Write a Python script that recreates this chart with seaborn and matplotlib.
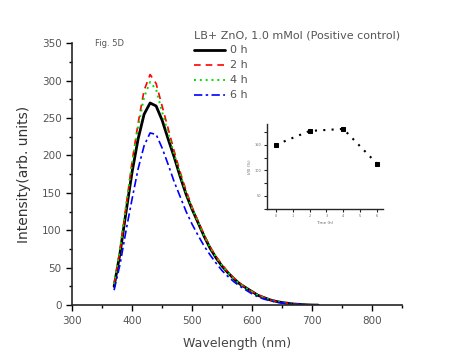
import matplotlib
matplotlib.use("Agg")
import matplotlib.pyplot as plt
import seaborn as sns
import numpy as np
from matplotlib.ticker import MultipleLocator

sns.set_style("ticks")
plt.rcParams['font.family'] = ['DejaVu Sans']

wavelength = [370, 380, 390, 400, 410, 420, 430, 440, 450, 460, 470, 480, 490, 500,
              510, 520, 530, 540, 550, 560, 570, 580, 590, 600, 610, 620, 630, 640,
              650, 660, 670, 680, 690, 700, 710]
h0 = [25, 70, 125, 178, 222, 255, 270, 266, 247, 222, 198, 172, 148, 128,
      110, 92, 76, 63, 52, 43, 35, 28, 23, 18, 13, 10, 7, 5,
      3.5, 2.5, 1.5, 1, 0.5, 0.2, 0.1]
h2 = [28, 74, 132, 192, 243, 287, 308, 296, 266, 236, 206, 178, 153, 131,
      112, 94, 78, 65, 54, 44, 36, 29, 23, 18, 14, 10, 7, 5,
      3.5, 2.5, 1.5, 1, 0.5, 0.2, 0.1]
h4 = [28, 76, 134, 190, 238, 278, 298, 288, 258, 230, 202, 175, 150, 129,
      111, 93, 77, 64, 53, 43, 35, 28, 23, 18, 13, 10, 7, 5,
      3.5, 2.5, 1.5, 1, 0.5, 0.2, 0.1]
h6 = [20, 55, 100, 142, 182, 213, 230, 228, 210, 188, 165, 145, 125, 108,
      93, 79, 67, 56, 46, 38, 31, 25, 20, 15, 11, 8, 6, 4,
      3, 2, 1.5, 1, 0.5, 0.3, 0.2]
series_labels = ["0 h", "2 h", "4 h", "6 h"]

inset_time = [0, 2, 4, 6]
inset_value = [150, 177, 181, 113]

fig = plt.figure(figsize=(4.65, 3.62), dpi=100)
ax = fig.add_axes([0.155, 0.157, 0.71, 0.724])

styles = [
    dict(color="black", linestyle="-", linewidth=2.0),
    dict(color="#ff0000", linestyle=(0, (4, 3)), linewidth=1.2),
    dict(color="#00dd00", linestyle=(0, (1, 2)), linewidth=1.4),
    dict(color="#0000ff", linestyle=(0, (5, 2, 1.5, 2)), linewidth=1.2),
]
for vals, lab, st in zip([h0, h2, h4, h6], series_labels, styles):
    sns.lineplot(x=wavelength, y=vals, ax=ax, label=lab, **st)

ax.set_xlim(300, 850)
ax.set_ylim(0, 350)
ax.xaxis.set_minor_locator(MultipleLocator(50))
ax.yaxis.set_major_locator(MultipleLocator(50))
ax.yaxis.set_minor_locator(MultipleLocator(25))
ax.set_xticks([300, 400, 500, 600, 700, 800])
ax.tick_params(which="major", direction="out", length=4, width=1, labelsize=7.5,
               labelcolor="#555555", color="black")
ax.tick_params(which="minor", direction="out", length=2.5, width=1, color="black")
for s in ["top", "right"]:
    ax.spines[s].set_visible(False)
for s in ["left", "bottom"]:
    ax.spines[s].set_linewidth(1.2)
ax.set_xlabel("Wavelength (nm)", fontsize=9, color="#444444", labelpad=8)
ax.set_ylabel("Intensity(arb. units)", fontsize=10, color="#333333", labelpad=8)

ax.text(0.07, 1.0, "Fig. 5D", transform=ax.transAxes, fontsize=6, color="#555555",
        va="center")

leg = ax.legend(title="LB+ ZnO, 1.0 mMol (Positive control)", loc="upper left",
                bbox_to_anchor=(0.355, 1.065), frameon=False, fontsize=8,
                title_fontsize=8, handlelength=2.8, labelspacing=0.45,
                borderaxespad=0, handletextpad=0.5)
leg._legend_box.align = "left"
for t in leg.get_texts():
    t.set_color("#555555")
leg.get_title().set_color("#555555")

# inset
axi = fig.add_axes([0.574, 0.423, 0.25, 0.235])
sns.lineplot(x=inset_time, y=inset_value, ax=axi, color="black",
             linestyle=(0, (1, 3)), linewidth=1.5, marker="s", markersize=3.5,
             markeredgecolor="black")
axi.set_xlim(-0.54, 6.37)
axi.set_ylim(24.5, 191)
axi.set_xticks(range(0, 7))
axi.set_yticks([50, 100, 150])
axi.yaxis.set_minor_locator(MultipleLocator(25))
axi.tick_params(which="major", direction="out", length=2.5, width=0.8, labelsize=2.5,
                labelcolor="#666666", pad=1.5)
axi.tick_params(which="minor", direction="out", length=2.5, width=0.8)
for s in ["top", "right"]:
    axi.spines[s].set_visible(False)
for s in ["left", "bottom"]:
    axi.spines[s].set_linewidth(1.0)
axi.set_xlabel("Time (h)", fontsize=3, color="#666666", labelpad=2)
axi.set_ylabel("I/I0 (%)", fontsize=3, color="#666666", labelpad=2)

fig.savefig("out.png", dpi=100)
